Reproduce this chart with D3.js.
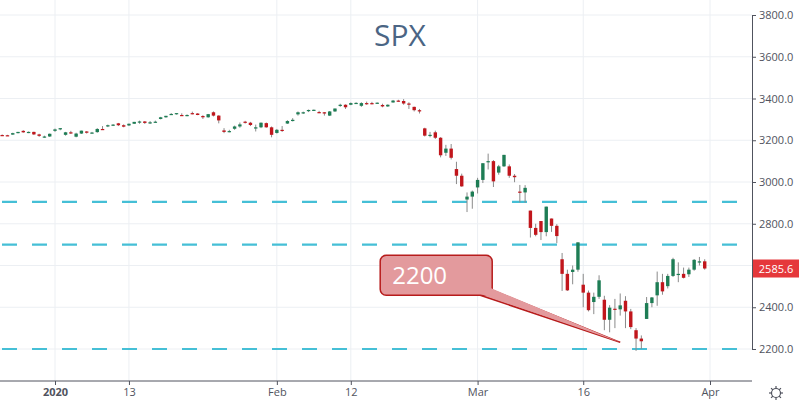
<!DOCTYPE html>
<html><head><meta charset="utf-8">
<script src="https://cdn.jsdelivr.net/npm/d3@7"></script>
<style>body{margin:0;background:#fff}svg{display:block;font-family:"Open Sans",sans-serif}</style>
</head><body><svg></svg>
<script>
// half-day candles, "open high low close", two per trading day, starting Dec 24 2019 (day -5)
const candles = [
"3225 3228 3222 3224","3224 3226 3221 3223",
"3227 3236 3226 3234","3234 3240 3233 3240",
"3245 3248 3236 3238","3238 3242 3234 3240",
"3240 3241 3225 3228","3228 3231 3216 3221",
"3216 3222 3212 3218","3218 3232 3216 3231",
"3245 3256 3240 3252","3252 3258 3248 3258",
"3226 3240 3222 3238","3238 3245 3230 3235",
"3217 3236 3214 3232","3232 3246 3230 3246",
"3242 3244 3232 3236","3236 3240 3232 3237",
"3239 3258 3236 3254","3254 3268 3252 3253",
"3266 3275 3263 3272","3272 3277 3268 3275",
"3281 3283 3268 3272","3272 3276 3262 3265",
"3271 3280 3268 3279","3279 3288 3278 3288",
"3285 3294 3279 3290","3290 3292 3278 3283",
"3283 3292 3278 3286","3286 3294 3284 3289",
"3302 3312 3300 3310","3310 3317 3308 3317",
"3323 3330 3322 3326","3326 3330 3323 3330",
"3321 3329 3316 3318","3318 3324 3315 3321",
"3330 3337 3324 3328","3328 3330 3320 3321",
"3316 3320 3302 3310","3310 3326 3308 3325",
"3334 3338 3314 3318","3318 3320 3281 3295",
"3247 3258 3234 3240","3240 3250 3238 3244",
"3255 3270 3250 3266","3266 3285 3260 3276",
"3289 3293 3280 3284","3284 3288 3268 3273",
"3256 3275 3242 3262","3262 3285 3258 3284",
"3282 3285 3260 3262","3262 3266 3214 3226",
"3235 3254 3232 3250","3250 3268 3240 3249",
"3280 3296 3278 3292","3292 3306 3290 3298",
"3324 3338 3318 3334","3334 3337 3326 3334",
"3344 3347 3335 3345","3345 3347 3340 3346",
"3335 3341 3330 3334","3334 3335 3318 3328",
"3318 3340 3316 3338","3338 3352 3336 3352",
"3365 3375 3360 3370","3370 3372 3350 3358",
"3370 3381 3368 3378","3378 3382 3374 3379",
"3365 3382 3360 3378","3378 3385 3370 3374",
"3378 3384 3372 3377","3377 3381 3374 3380",
"3369 3375 3358 3362","3362 3372 3360 3370",
"3381 3393 3380 3390","3390 3394 3384 3386",
"3388 3397 3370 3376","3376 3382 3350 3373",
"3360 3361 3338 3344","3344 3350 3328 3338",
"3257 3260 3218 3222","3222 3240 3214 3226",
"3238 3246 3206 3212","3212 3215 3118 3128",
"3140 3178 3125 3160","3160 3182 3108 3116",
"3062 3097 2990 3030","3030 3040 2977 2979",
"2916 2950 2856 2930","2930 2959 2872 2954",
"2974 3020 2945 3010","3010 3090 2995 3090",
"3096 3136 3060 3100","3100 3105 2976 3003",
"3045 3082 3035 3075","3075 3130 3072 3130",
"3075 3084 3020 3030","3030 3038 2999 3023",
"2954 2986 2902 2950","2950 2985 2901 2972",
"2863 2863 2734 2780","2780 2800 2740 2747",
"2813 2813 2722 2760","2760 2882 2740 2882",
"2825 2825 2761 2790","2790 2798 2707 2741",
"2630 2660 2478 2560","2560 2580 2478 2481",
"2569 2600 2510 2580","2580 2711 2570 2711",
"2508 2560 2400 2470","2470 2480 2380 2386",
"2425 2470 2367 2450","2450 2553 2440 2529",
"2436 2455 2290 2340","2340 2410 2280 2398",
"2393 2440 2300 2390","2390 2466 2360 2409",
"2431 2453 2300 2380","2380 2392 2295 2305",
"2290 2300 2191 2250","2250 2265 2200 2237",
"2344 2449 2344 2420","2420 2449 2400 2447",
"2457 2571 2407 2520","2520 2560 2460 2476",
"2501 2560 2490 2550","2550 2637 2545 2630",
"2555 2615 2520 2560","2560 2590 2538 2541",
"2558 2590 2545 2580","2580 2631 2575 2627",
"2614 2641 2600 2620","2620 2630 2580 2585.6"
];
const startDay = -5;
const dateTicks = [[0,"2020"],[7,"13"],[21,"Feb"],[28,"12"],[40,"Mar"],[50,"16"],[62,"Apr"]];
const priceTicks = [2200,2400,2600,2800,3000,3200,3400,3600,3800];
const levels = [2905,2700,2200];
const lastPrice = 2585.6;
const callout = {text:"2200", day:53.5, price:2232};

const W=800,H=405, plotR=752, plotB=381;
const data = candles.map((s,i)=>{const [o,h,l,c]=s.split(" ").map(Number);return {d:startDay+i*0.5,o,h,l,c};});

const svg=d3.select("svg").attr("width",W).attr("height",H);
const x=d3.scaleLinear().domain([0,62]).range([55,710]);
const y=d3.scaleLinear().domain([2200,3800]).range([349,15]);

// grid
svg.append("g").selectAll("line").data(dateTicks).join("line")
  .attr("x1",d=>x(d[0])).attr("x2",d=>x(d[0])).attr("y1",0).attr("y2",plotB)
  .attr("stroke","#eceff3");
svg.append("g").selectAll("line").data(priceTicks).join("line")
  .attr("x1",0).attr("x2",plotR).attr("y1",d=>y(d)).attr("y2",d=>y(d))
  .attr("stroke","#eceff3");

svg.append("text").attr("x",400).attr("y",46).attr("text-anchor","middle")
  .attr("font-size",30).attr("fill","#4b6584").text("SPX");

// levels
svg.append("g").selectAll("line").data(levels).join("line")
  .attr("x1",2).attr("x2",plotR).attr("y1",d=>y(d)).attr("y2",d=>y(d))
  .attr("stroke","#45bfd6").attr("stroke-width",2.2).attr("stroke-dasharray","15,15");

// candles
const g=svg.append("g");
const up="#1e7d55",dn="#c1161c";
g.selectAll("line").data(data).join("line")
  .attr("x1",d=>x(d.d)).attr("x2",d=>x(d.d)).attr("y1",d=>y(d.h)).attr("y2",d=>y(d.l))
  .attr("stroke","#8a8a8a").attr("stroke-width",1);
g.selectAll("rect").data(data).join("rect")
  .attr("x",d=>x(d.d)-1.7).attr("width",3.4)
  .attr("y",d=>y(Math.max(d.o,d.c))).attr("height",d=>Math.max(1.2,Math.abs(y(d.o)-y(d.c))))
  .attr("fill",d=>d.c>=d.o?up:dn);

// callout
const tx=x(callout.day), ty=y(callout.price);
const bx=tx-240, by=ty-61;
svg.append("path")
  .attr("d",`M${bx+100},${by+14} L${tx},${ty} L${bx+110},${by+8} Z`)
  .attr("fill","#e39a9d").attr("stroke","#b71c1c").attr("stroke-width",1.5);
svg.append("rect").attr("x",bx).attr("y",by-26).attr("width",112).attr("height",40).attr("rx",6)
  .attr("fill","#e39a9d").attr("stroke","#b71c1c").attr("stroke-width",1.5);
svg.append("path")
  .attr("d",`M${bx+98},${by+12} L${bx+111},${by+7} L${tx},${ty} Z`)
  .attr("fill","#e39a9d");
svg.append("text").attr("x",bx+12).attr("y",by+3).attr("font-size",24)
  .attr("fill","#fff").text(callout.text);

// axes
svg.append("rect").attr("x",plotR).attr("y",0).attr("width",W-plotR).attr("height",H).attr("fill","#fff");
svg.append("rect").attr("x",0).attr("y",plotB).attr("width",W).attr("height",H-plotB).attr("fill","#fff");
const ya=svg.append("g").attr("transform",`translate(${plotR},0)`)
  .call(d3.axisRight(y).tickValues(priceTicks).tickFormat(d3.format(".1f")).tickSize(4));
ya.select(".domain").attr("stroke","#50535e");
ya.selectAll("text").attr("font-size",11).attr("fill","#50535e").attr("font-family","Open Sans");
ya.selectAll(".tick line").attr("stroke","#50535e");
ya.selectAll(".tick").filter(d=>Math.abs(y(d)-y(lastPrice))<14).select("text").remove();
const xa=svg.append("g").attr("transform",`translate(0,${plotB})`)
  .call(d3.axisBottom(x).tickValues(dateTicks.map(d=>d[0])).tickFormat((v,i)=>dateTicks[i][1]).tickSize(4).tickSizeOuter(0));
xa.select(".domain").attr("d",`M0,0H${plotR}`).attr("stroke","#50535e");
xa.selectAll("text").attr("font-size",11).attr("fill","#50535e").attr("font-family","Open Sans");
xa.selectAll(".tick text").attr("font-weight",(v,i)=>i===0?"bold":null);
xa.selectAll(".tick line").attr("stroke","#50535e");

// last price label
svg.append("rect").attr("x",plotR+1).attr("y",y(lastPrice)-9).attr("width",46).attr("height",18)
  .attr("fill","#e5383b");
svg.append("text").attr("x",plotR+24).attr("y",y(lastPrice)+4).attr("text-anchor","middle")
  .attr("font-size",11).attr("fill","#fff").text(lastPrice.toFixed(1));

// settings icon
const gear=svg.append("g").attr("transform",`translate(776,393)`);
gear.append("circle").attr("r",4.5).attr("fill","none").attr("stroke","#50535e").attr("stroke-width",1.2);
gear.selectAll("line").data(d3.range(8)).join("line")
  .attr("x1",d=>4.5*Math.cos(d*Math.PI/4)).attr("y1",d=>4.5*Math.sin(d*Math.PI/4))
  .attr("x2",d=>7*Math.cos(d*Math.PI/4)).attr("y2",d=>7*Math.sin(d*Math.PI/4))
  .attr("stroke","#50535e").attr("stroke-width",1.2);
</script></body></html>
